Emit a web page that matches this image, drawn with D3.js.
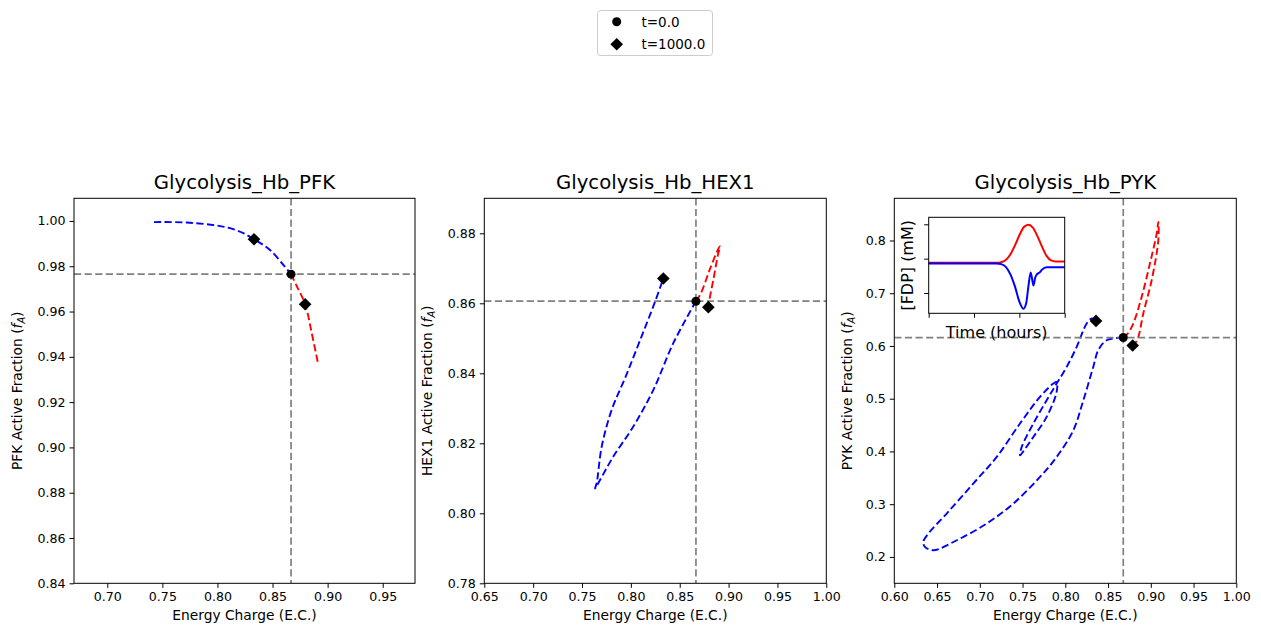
<!DOCTYPE html>
<html>
<head>
<meta charset="utf-8">
<script src="https://cdn.jsdelivr.net/npm/d3@7"></script>
<style>
  body { margin: 0; background: #fff; }
  svg { font-family: "DejaVu Sans", sans-serif; }
</style>
</head>
<body>
<svg id="chart" width="1261" height="636"></svg>
<script>
// ---- data ----
const legendLabels = ["t=0.0", "t=1000.0"];

// PFK panel
const pfkXTicks = [0.70, 0.75, 0.80, 0.85, 0.90, 0.95];
const pfkYTicks = [0.84, 0.86, 0.88, 0.90, 0.92, 0.94, 0.96, 0.98, 1.00];
const pfkBlue = [[0.7424, 0.9995], [0.7721, 0.9993], [0.7993, 0.9980], [0.8114, 0.9968], [0.8235, 0.9946],
  [0.8332, 0.9919], [0.8477, 0.9872], [0.8598, 0.9806], [0.8668, 0.9765]];
const pfkRed = [[0.8668, 0.9765], [0.8720, 0.9712], [0.8796, 0.9632], [0.8856, 0.9504], [0.8916, 0.9364]];
const pfkStart = [0.8668, 0.9765];
const pfkEnd = [[0.8332, 0.9919], [0.8796, 0.9632]];

// HEX1 panel
const hexXTicks = [0.65, 0.70, 0.75, 0.80, 0.85, 0.90, 0.95, 1.00];
const hexYTicks = [0.78, 0.80, 0.82, 0.84, 0.86, 0.88];
const hexBlue = [[0.8666, 0.8606], [0.8434, 0.8486], [0.8229, 0.8352], [0.8025, 0.8248], [0.7820, 0.8162],
  [0.7684, 0.8095], [0.7633, 0.8071], [0.7650, 0.8086], [0.7701, 0.8190], [0.7803, 0.8295],
  [0.7946, 0.8390], [0.8095, 0.8495], [0.8248, 0.8605], [0.8332, 0.8671]];
const hexRed = [[0.8666, 0.8606], [0.8717, 0.8629], [0.8819, 0.8705], [0.8904, 0.8760], [0.8915, 0.8762],
  [0.8895, 0.8743], [0.8844, 0.8667], [0.8803, 0.8609], [0.8793, 0.8589]];
const hexStart = [0.8666, 0.8606];
const hexEnd = [[0.8332, 0.8671], [0.8793, 0.8589]];

// PYK panel
const pykXTicks = [0.60, 0.65, 0.70, 0.75, 0.80, 0.85, 0.90, 0.95, 1.00];
const pykYTicks = [0.2, 0.3, 0.4, 0.5, 0.6, 0.7, 0.8];
const pykBlue = [[0.8678, 0.6160], [0.8484, 0.6109], [0.8386, 0.5920], [0.8327, 0.5603], [0.8211, 0.4971],
  [0.8094, 0.4402], [0.7899, 0.3896], [0.7704, 0.3517], [0.7392, 0.3012], [0.7081, 0.2633],
  [0.6730, 0.2316], [0.6456, 0.2127], [0.6359, 0.2189], [0.6339, 0.2284], [0.6398, 0.2443],
  [0.6613, 0.2823], [0.6924, 0.3392], [0.7198, 0.3896], [0.7470, 0.4529], [0.7704, 0.5034],
  [0.7860, 0.5288], [0.7899, 0.5318], [0.7899, 0.5129], [0.7782, 0.4655], [0.7626, 0.4275],
  [0.7490, 0.3961], [0.7470, 0.3928], [0.7490, 0.4086], [0.7626, 0.4529], [0.7782, 0.4971],
  [0.7899, 0.5288], [0.8016, 0.5603], [0.8133, 0.5982], [0.8250, 0.6426], [0.8309, 0.6521],
  [0.8359, 0.6475]];
const pykRed = [[0.8678, 0.6160], [0.8725, 0.6223], [0.8795, 0.6426], [0.8893, 0.6931], [0.8990, 0.7564],
  [0.9069, 0.8133], [0.9088, 0.8353], [0.9088, 0.8006], [0.9010, 0.7247], [0.8912, 0.6616],
  [0.8854, 0.6172], [0.8815, 0.6047], [0.8788, 0.6009]];
const pykStart = [0.8678, 0.6160];
const pykEnd = [[0.8359, 0.6475], [0.8788, 0.6009]];

// inset: [FDP] vs time (no tick labels in the reference)
const insetXTicks = [0, 10, 20, 30];
const insetYTicks = [0.1, 0.2, 0.3];
const fdpRed = [[0, 0.188], [15, 0.188], [16, 0.190], [17, 0.196], [18, 0.212], [19, 0.238], [20, 0.268],
  [21, 0.292], [22, 0.299], [23, 0.290], [24, 0.265], [25, 0.235], [26, 0.208], [27, 0.195],
  [28, 0.192], [30, 0.192]];
const fdpBlue = [[0, 0.186], [15, 0.186], [16, 0.184], [17, 0.176], [18, 0.155], [19, 0.120], [20, 0.075],
  [20.9, 0.054], [21.5, 0.070], [22, 0.120], [22.5, 0.160], [23.1, 0.122], [23.5, 0.145],
  [23.8, 0.153], [24.5, 0.160], [25, 0.168], [26, 0.175], [30, 0.175]];

// ---- layout ----
const plotTop = 198.3, plotBottom = 583.3;
const panels = [
  { title: "Glycolysis_Hb_PFK", enz: "PFK", left: 74, right: 415, xDom: [0.6698, 0.9793], yDom: [0.84, 1.01],
    xTicks: pfkXTicks, yTicks: pfkYTicks, yFmt: ".2f", blue: pfkBlue, red: pfkRed, start: pfkStart, end: pfkEnd, labelX: 22 },
  { title: "Glycolysis_Hb_HEX1", enz: "HEX1", left: 484.3, right: 826.3, xDom: [0.65, 1.0], yDom: [0.78, 0.89],
    xTicks: hexXTicks, yTicks: hexYTicks, yFmt: ".2f", blue: hexBlue, red: hexRed, start: hexStart, end: hexEnd, labelX: 432 },
  { title: "Glycolysis_Hb_PYK", enz: "PYK", left: 894.3, right: 1236.3, xDom: [0.6, 1.0], yDom: [0.15, 0.88],
    xTicks: pykXTicks, yTicks: pykYTicks, yFmt: ".1f", blue: pykBlue, red: pykRed, start: pykStart, end: pykEnd, labelX: 852 }
];

const svg = d3.select("#chart");
const diamond = d3.symbol().type(d3.symbolSquare).size(80);
const dash = "7.2,3.4";

function styleAxis(g, fs) {
  g.attr("font-family", null).attr("font-size", null);
  g.selectAll(".domain").remove();
  g.selectAll(".tick line").attr("stroke", "#000").attr("stroke-width", 1);
  g.selectAll(".tick text").attr("fill", "#000").style("font-size", fs + "px");
}

panels.forEach(p => {
  const x = d3.scaleLinear().domain(p.xDom).range([p.left, p.right]);
  const y = d3.scaleLinear().domain(p.yDom).range([plotBottom, plotTop]);
  const g = svg.append("g");

  const clipId = "clip-" + p.enz;
  svg.append("clipPath").attr("id", clipId).append("rect")
    .attr("x", p.left).attr("y", plotTop).attr("width", p.right - p.left).attr("height", plotBottom - plotTop);

  const plot = g.append("g").attr("clip-path", `url(#${clipId})`);

  const line = d3.line().x(d => x(d[0])).y(d => y(d[1])).curve(d3.curveCatmullRom.alpha(0.5));

  plot.append("path").datum(p.blue).attr("d", line)
    .attr("fill", "none").attr("stroke", "#0000ff").attr("stroke-width", 1.9).attr("stroke-dasharray", dash);
  plot.append("path").datum(p.red).attr("d", line)
    .attr("fill", "none").attr("stroke", "#ff0000").attr("stroke-width", 1.9).attr("stroke-dasharray", dash);

  // steady state reference lines
  plot.append("line").attr("x1", p.left).attr("x2", p.right)
    .attr("y1", y(p.start[1])).attr("y2", y(p.start[1]))
    .attr("stroke", "#808080").attr("stroke-width", 1.7).attr("stroke-dasharray", dash);
  plot.append("line").attr("y1", plotTop).attr("y2", plotBottom)
    .attr("x1", x(p.start[0])).attr("x2", x(p.start[0]))
    .attr("stroke", "#808080").attr("stroke-width", 1.7).attr("stroke-dasharray", dash);

  plot.append("circle").attr("cx", x(p.start[0])).attr("cy", y(p.start[1])).attr("r", 4.5).attr("fill", "#000");
  plot.selectAll(".dia").data(p.end).enter().append("path")
    .attr("d", diamond)
    .attr("transform", d => `translate(${x(d[0])},${y(d[1])}) rotate(45)`)
    .attr("fill", "#000");

  // axes
  const xa = g.append("g").attr("transform", `translate(0,${plotBottom})`)
    .call(d3.axisBottom(x).tickValues(p.xTicks).tickFormat(d3.format(".2f")).tickSize(4.5).tickPadding(4));
  styleAxis(xa, 12.6);
  const ya = g.append("g").attr("transform", `translate(${p.left},0)`)
    .call(d3.axisLeft(y).tickValues(p.yTicks).tickFormat(d3.format(p.yFmt)).tickSize(4.5).tickPadding(4));
  styleAxis(ya, 12.6);

  g.append("rect").attr("x", p.left).attr("y", plotTop).attr("width", p.right - p.left).attr("height", plotBottom - plotTop)
    .attr("fill", "none").attr("stroke", "#000").attr("stroke-width", 1);

  g.append("text").attr("x", (p.left + p.right) / 2).attr("y", 188.5).attr("text-anchor", "middle")
    .style("font-size", "19.7px").text(p.title);
  g.append("text").attr("x", (p.left + p.right) / 2).attr("y", 619.5).attr("text-anchor", "middle")
    .style("font-size", "13.8px").text("Energy Charge (E.C.)");

  const yl = g.append("text").attr("transform", `translate(${p.labelX},${(plotTop + plotBottom) / 2}) rotate(-90)`)
    .attr("text-anchor", "middle").style("font-size", "13.8px");
  yl.append("tspan").text(p.enz + " Active Fraction (");
  yl.append("tspan").attr("font-style", "italic").text("f");
  yl.append("tspan").attr("font-style", "italic").attr("baseline-shift", "-25%").style("font-size", "9.7px").text("A");
  yl.append("tspan").text(")");
});

// ---- inset in the PYK panel ----
const ix = d3.scaleLinear().domain([0, 30]).range([928.7, 1064.7]);
const iy = d3.scaleLinear().domain([0.0409, 0.3204]).range([313.3, 217.3]);
const ig = svg.append("g");
ig.append("rect").attr("x", 928.7).attr("y", 217.3).attr("width", 136).attr("height", 96)
  .attr("fill", "#fff").attr("stroke", "none");
const iline = d3.line().x(d => ix(d[0])).y(d => iy(d[1])).curve(d3.curveMonotoneX);
ig.append("path").datum(fdpRed).attr("d", iline).attr("fill", "none").attr("stroke", "#ff0000").attr("stroke-width", 2);
ig.append("path").datum(fdpBlue).attr("d", iline).attr("fill", "none").attr("stroke", "#0000ff").attr("stroke-width", 2);
const ixa = ig.append("g").attr("transform", "translate(0,313.3)")
  .call(d3.axisBottom(ix).tickValues(insetXTicks).tickFormat("").tickSize(4.5));
styleAxis(ixa, 12);
const iya = ig.append("g").attr("transform", "translate(928.7,0)")
  .call(d3.axisLeft(iy).tickValues(insetYTicks).tickFormat("").tickSize(4.5));
styleAxis(iya, 12);
ig.append("rect").attr("x", 928.7).attr("y", 217.3).attr("width", 136).attr("height", 96)
  .attr("fill", "none").attr("stroke", "#000").attr("stroke-width", 1);
ig.append("text").attr("x", 996.7).attr("y", 338).attr("text-anchor", "middle")
  .style("font-size", "16px").text("Time (hours)");
ig.append("text").attr("transform", "translate(913,265.3) rotate(-90)").attr("text-anchor", "middle")
  .style("font-size", "16px").text("[FDP] (mM)");

// ---- legend ----
const lg = svg.append("g");
lg.append("rect").attr("x", 597.5).attr("y", 10.5).attr("width", 115).attr("height", 45).attr("rx", 3)
  .attr("fill", "#fff").attr("stroke", "#cccccc").attr("stroke-width", 1);
lg.append("circle").attr("cx", 616.7).attr("cy", 21.7).attr("r", 4.5).attr("fill", "#000");
lg.append("path").attr("d", diamond).attr("transform", "translate(616.7,44.3) rotate(45)").attr("fill", "#000");
lg.selectAll(".lt").data(legendLabels).enter().append("text")
  .attr("x", 641.5).attr("y", (d, i) => 26.5 + i * 22.6)
  .style("font-size", "13.5px").text(d => d);
</script>
</body>
</html>
